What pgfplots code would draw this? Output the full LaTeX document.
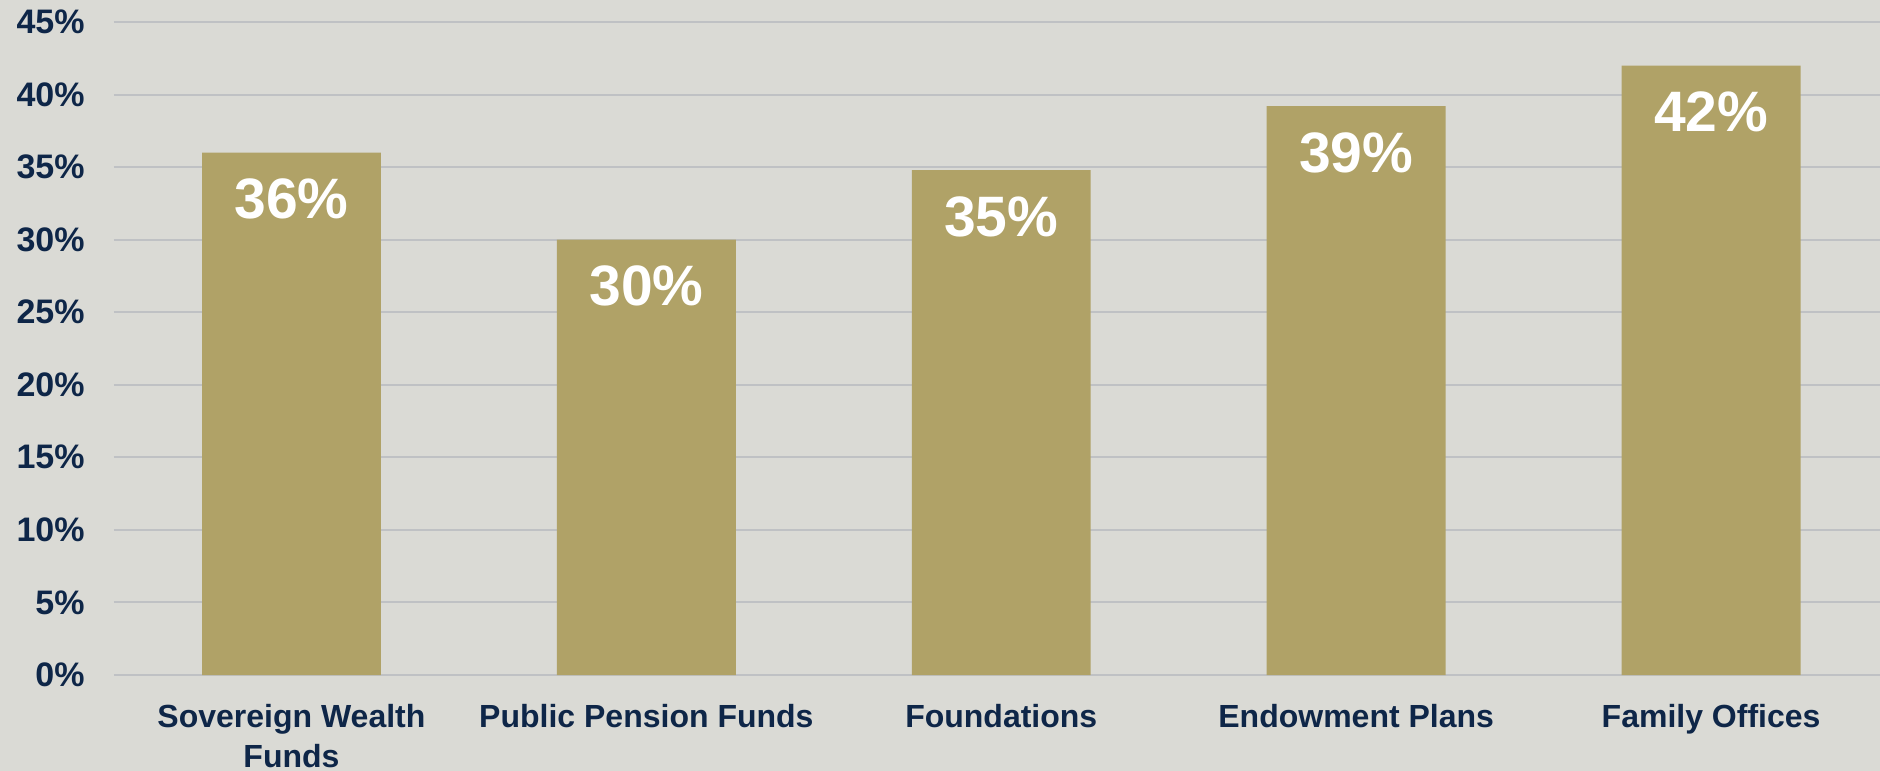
\documentclass[border=0pt]{standalone}
\usepackage{pgfplots}
\pgfplotsset{compat=1.18}
\usepackage{fontspec}
\setmainfont{Liberation Sans}
\definecolor{bgc}{HTML}{DADAD5}
\definecolor{barc}{HTML}{B0A267}
\definecolor{navy}{HTML}{0E2648}
\definecolor{gridc}{HTML}{BFC1C4}
\begin{document}
\begin{tikzpicture}
\fill[bgc] (-57pt,-48pt) rectangle (940pt-57pt,337.5pt);
\useasboundingbox (-57pt,-48pt) rectangle (940pt-57pt,337.5pt);
\begin{axis}[
  at={(0,0)}, anchor=south west,
  scale only axis,
  width=883pt, height=326.5pt,
  xmin=-0.5, xmax=4.476,
  ymin=0, ymax=45,
  axis line style={draw=none},
  major tick length=0pt,
  ytick={0,5,...,45},
  yticklabels={0\%,5\%,10\%,15\%,20\%,25\%,30\%,35\%,40\%,45\%},
  ymajorgrids,
  grid style={gridc, line width=1pt},
  xtick={0,1,2,3,4},
  xticklabels={{Sovereign Wealth\\Funds},{Public Pension Funds},{Foundations},{Endowment Plans},{Family Offices}},
  yticklabel style={font=\fontsize{17}{20}\selectfont\bfseries, text=navy, anchor=east, inner sep=0pt, xshift=-14.5pt},
  xticklabel style={font=\fontsize{16}{20}\selectfont\bfseries, text=navy, anchor=north, inner sep=0pt, yshift=-14.5pt, align=center},
  clip=false,
  /pgf/number format/assume math mode=true,
  ybar, bar width=0.504,
  nodes near coords={\pgfmathprintnumber[fixed,precision=0]{\pgfplotspointmeta}\%},
  every node near coord/.append style={font=\fontsize{28.5}{32}\selectfont\bfseries, text=white, anchor=north, inner sep=0pt, yshift=-13pt},
]
\addplot[fill=barc, draw=none] coordinates {(0,36) (1,30) (2,34.8) (3,39.2) (4,42)};
\end{axis}
\end{tikzpicture}
\end{document}
